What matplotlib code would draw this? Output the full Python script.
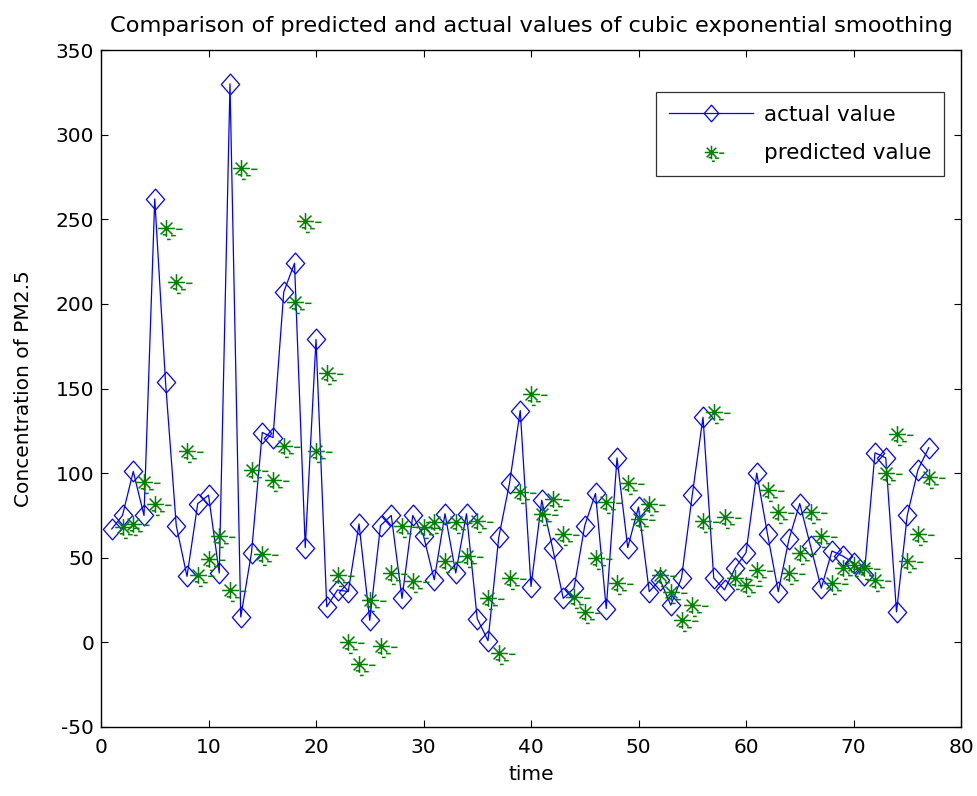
import numpy as np
import matplotlib
matplotlib.use("Agg")
import matplotlib.pyplot as plt
from matplotlib.path import Path

t_actual = list(range(1, 78))
actual = [67, 75, 101, 75, 262, 154, 69, 39, 82, 87,
          41, 330, 15, 53, 124, 121, 207, 224, 56, 179,
          21, 31, 30, 70, 13, 69, 75, 26, 75, 63,
          37, 76, 41, 76, 14, 1, 62, 94, 137, 33,
          84, 56, 26, 32, 69, 88, 20, 109, 56, 80,
          30, 37, 22, 38, 87, 133, 38, 31, 44, 53,
          100, 64, 30, 61, 82, 57, 32, 54, 51, 47,
          40, 112, 109, 18, 75, 102, 115]

t_pred = list(range(2, 78))
predicted = [68, 70, 95, 82, 245, 213, 113, 40, 49, 63,
             31, 280, 102, 52, 96, 116, 201, 249, 113, 159,
             40, 0, -13, 25, -2, 41, 69, 36, 68, 71,
             48, 71, 51, 72, 26, -6, 38, 89, 147, 76,
             85, 64, 27, 18, 50, 83, 35, 94, 73, 82,
             40, 30, 13, 22, 72, 136, 74, 38, 34, 43,
             90, 77, 41, 53, 77, 63, 35, 44, 46, 44,
             37, 100, 123, 48, 64, 98]

title = "Comparison of predicted and actual values of cubic exponential smoothing"
xlabel = "time"
ylabel = "Concentration of PM2.5"
labels = ["actual value", "predicted value"]

plt.rcParams['font.family'] = ['DejaVu Sans']
plt.rcParams['axes.unicode_minus'] = False

# MATLAB-like diamond (slightly taller than wide)
diamond = Path([(0, 1), (0.88, 0), (0, -1), (-0.88, 0), (0, 1)],
               [Path.MOVETO, Path.LINETO, Path.LINETO, Path.LINETO, Path.CLOSEPOLY])

# asterisk with the small dash artefacts seen in the reference
d = 0.7071
ast_verts = [(-1, 0), (1, 0), (0, -1), (0, 1), (-d, -d), (d, d), (-d, d), (d, -d),
             (1.15, -0.1), (1.9, -0.1),
             (-0.45, -0.75), (0.05, -0.75),
             (0.55, -0.85), (1.1, -0.85),
             (0.05, -1.3), (0.5, -1.3)]
ast_codes = [Path.MOVETO, Path.LINETO] * 8
asterisk = Path(ast_verts, ast_codes)

fig = plt.figure(figsize=(9.77, 7.96), dpi=100)
ax = fig.add_axes([101/977, 1-727/796, (961-101)/977, (727-50)/796])

ax.plot(t_actual, actual, color='#0000ff', lw=0.9, marker=diamond, markersize=15,
        markerfacecolor='none', markeredgecolor='#0000ff', markeredgewidth=0.9,
        label=labels[0])
ax.plot(t_pred, predicted, ls='none', marker=asterisk, markersize=23,
        color='#008000', markeredgewidth=1.1, label=labels[1])

ax.set_xlim(0, 80)
ax.set_ylim(-50, 350)
ax.set_xticks(range(0, 81, 10))
ax.set_yticks(range(-50, 351, 50))
ax.tick_params(direction='in', top=True, right=True, labelsize=14.5, length=5, width=0.8)
ax.tick_params(axis='x', pad=8)
ax.tick_params(axis='y', pad=5)
for s in ax.spines.values():
    s.set_linewidth(1.0)

ax.set_title(title, fontsize=16.2, pad=13)
ax.set_xlabel(xlabel, fontsize=14.5, labelpad=6)
ax.set_ylabel(ylabel, fontsize=14.5, labelpad=16)

leg = ax.legend(loc='upper right', bbox_to_anchor=(0.980, 0.938), borderaxespad=0,
                fontsize=15.5, frameon=True, fancybox=False, edgecolor='black',
                handlelength=3.9, handletextpad=0.5, borderpad=0.6, labelspacing=0.85,
                markerscale=0.8)
leg.get_frame().set_linewidth(0.9)

fig.savefig("out.png", dpi=100)
